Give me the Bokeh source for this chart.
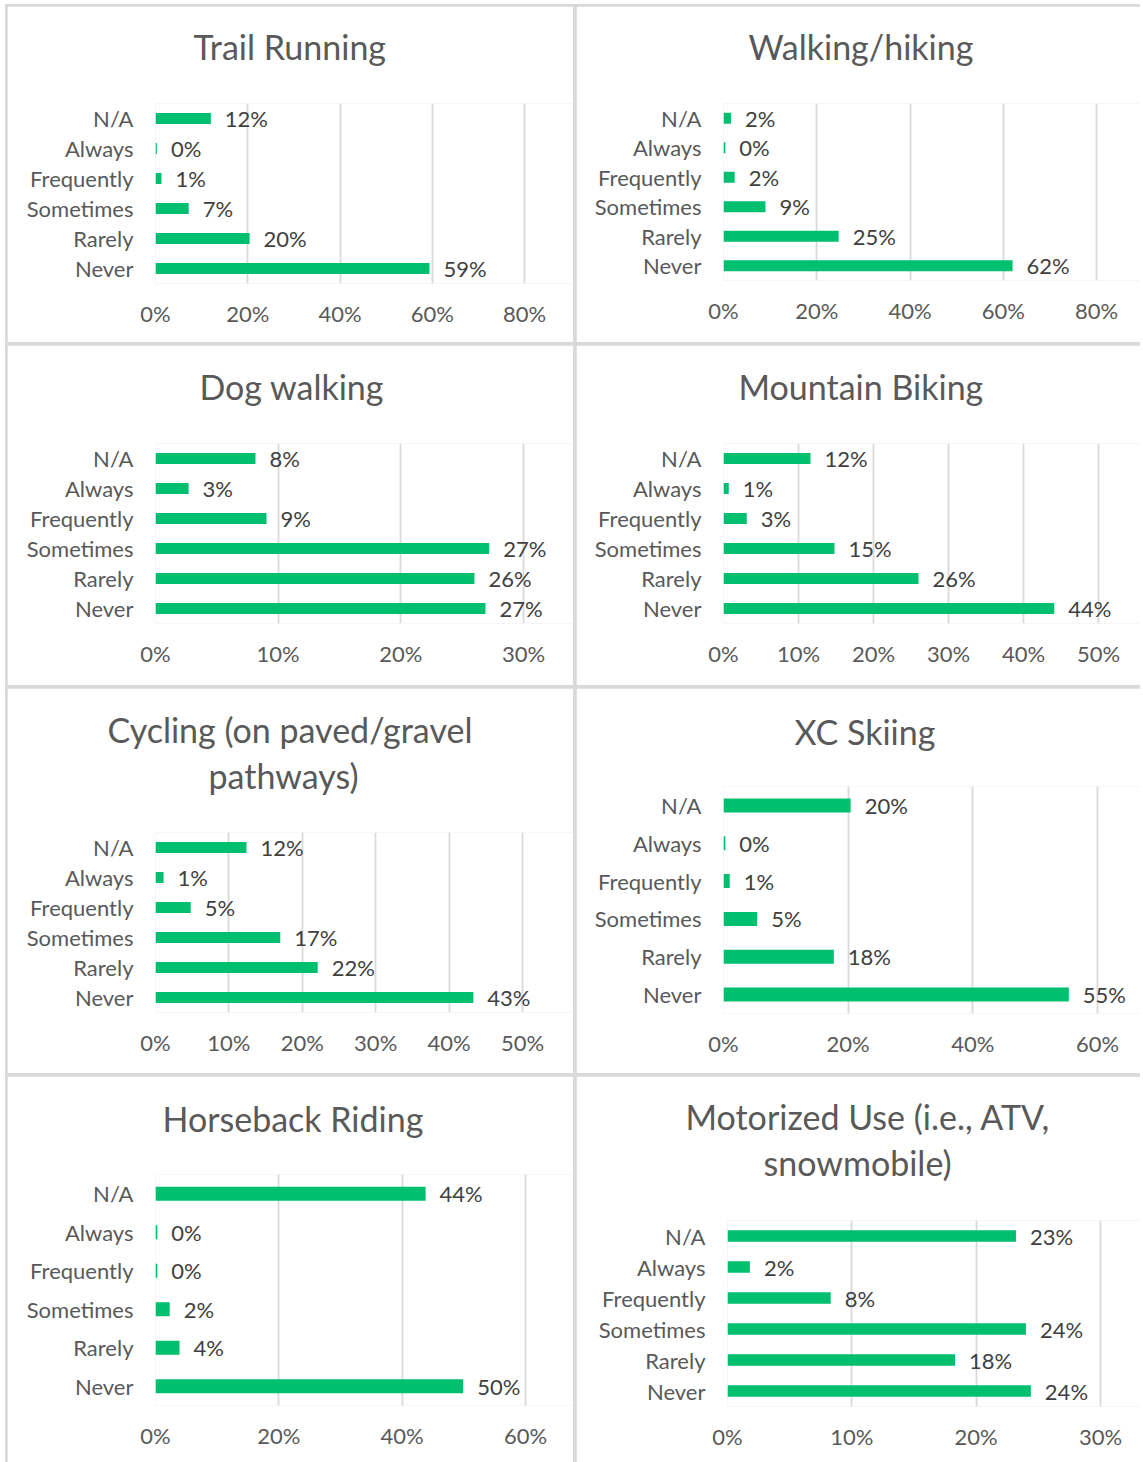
from bokeh.plotting import figure
from bokeh.models import (ColumnDataSource, FactorRange, Range1d, FixedTicker,
                          LabelSet, Title, Row, Column)
from bokeh.core.properties import value
from bokeh.embed import file_html
from bokeh.resources import INLINE

# ---------------- data ----------------
categories = ["N/A", "Always", "Frequently", "Sometimes", "Rarely", "Never"]

trail_running = [12.0, 0.3, 1.3, 7.2, 20.4, 59.4]
walking_hiking = [1.6, 0.4, 2.4, 9.0, 24.7, 62.0]
dog_walking = [8.15, 2.7, 9.05, 27.2, 26.0, 26.9]
mountain_biking = [11.6, 0.7, 3.1, 14.8, 26.0, 44.1]
cycling = [12.4, 1.1, 4.8, 17.0, 22.1, 43.3]
xc_skiing = [20.4, 0.3, 1.0, 5.4, 17.7, 55.4]
horseback_riding = [43.8, 0.3, 0.3, 2.3, 3.9, 49.9]
motorized_use = [23.2, 1.8, 8.3, 24.0, 18.3, 24.4]

ticks_80 = [0, 20, 40, 60, 80]
ticks_30_by10 = [0, 10, 20, 30]
ticks_50_by10 = [0, 10, 20, 30, 40, 50]
ticks_60_by20 = [0, 20, 40, 60]

title_trail = ["Trail Running"]
title_walk = ["Walking/hiking"]
title_dog = ["Dog walking"]
title_mtb = ["Mountain Biking"]
title_cyc = ["Cycling (on paved/gravel", "pathways)"]
title_xc = ["XC Skiing"]
title_horse = ["Horseback Riding"]
title_motor = ["Motorized Use (i.e., ATV,", "snowmobile)"]

# ---------------- styling ----------------
FONT = "Lato"
BAR = "#00BF6F"
GRID = "#D9D9D9"
AXTXT = "#595959"
LBLTXT = "#404040"
TITLE_PX = 34
TXT_SIZE = "22px"
LINE_GAP = 3.2


def panel(title_lines, title_offsets, title_gap, vals, ticks, w, h, left, fw, top, fh):
    factors = list(reversed(categories))
    tmax = ticks[-1]
    right = w - left - fw
    scale = fw / tmax
    x_end = tmax + right / scale          # let the frame reach the panel edge
    p = figure(width=w, height=h, y_range=FactorRange(*factors),
               x_range=Range1d(0, x_end),
               output_backend="svg", toolbar_location=None,
               min_border_left=left, min_border_right=0,
               min_border_top=top, min_border_bottom=h - top - fh,
               background_fill_color="white", border_fill_color="white")
    p.frame_align = False
    p.outline_line_color = None
    src = ColumnDataSource(dict(cat=categories, val=vals,
                                lbl=[f"{round(v)}%" for v in vals]))
    p.hbar(y="cat", right="val", left=0, height=0.37, source=src,
           fill_color=BAR, line_color=None)
    labels = LabelSet(x="val", y="cat", text="lbl", source=src,
                      x_offset=14, text_baseline="middle", text_align="left",
                      text_font=value(FONT), text_font_size=value(TXT_SIZE),
                      text_color=LBLTXT)
    p.add_layout(labels)

    p.xgrid.ticker = FixedTicker(ticks=ticks)
    p.xgrid.grid_line_color = GRID
    p.xgrid.grid_line_width = 1.8
    p.ygrid.grid_line_color = None

    p.xaxis.ticker = FixedTicker(ticks=ticks)
    p.xaxis.major_label_overrides = {t: f"{t}%" for t in ticks}
    for ax in (p.xaxis[0], p.yaxis[0]):
        ax.axis_line_color = None
        ax.major_tick_line_color = None
        ax.minor_tick_line_color = None
        ax.major_label_text_font = FONT
        ax.major_label_text_font_size = TXT_SIZE
        ax.major_label_text_color = AXTXT
    p.xaxis.major_label_standoff = 10
    p.yaxis.major_label_standoff = 16

    # titles: a thin spacer first (closest to the frame), then the lines
    p.title = None
    th = 1.2 * TITLE_PX
    multi = len(title_lines) > 1
    s = LINE_GAP if multi else 0
    spacer = title_gap - th / 2 - s / 2
    p.add_layout(Title(text=" ", text_font_size="1px", standoff=spacer - 1.2,
                       text_color="white"), "above")
    for line, off in zip(reversed(title_lines), reversed(title_offsets)):
        p.add_layout(Title(text=line, align="left", offset=off, text_font=FONT,
                           text_font_size=f"{TITLE_PX}px", text_color=AXTXT,
                           text_font_style="normal", standoff=s), "above")
    return p


W1, W2 = 566, 564
H = [336, 340, 385, 386]

p1 = panel(title_trail, [38], 55, trail_running, ticks_80, W1, H[0], 148, 369, 97, 180)
p2 = panel(title_walk, [25], 55, walking_hiking, ticks_80, W2, H[0], 147, 373, 97, 177)
p3 = panel(title_dog, [44], 55, dog_walking, ticks_30_by10, W1, H[1], 148, 368, 98, 180)
p4 = panel(title_mtb, [15], 55, mountain_biking, ticks_50_by10, W2, H[1], 147, 375, 98, 180)
p5 = panel(title_cyc, [-48, 53], 55, cycling, ticks_50_by10, W1, H[2], 148, 367, 144, 180)
p6 = panel(title_xc, [71], 53, xc_skiing, ticks_60_by20, W2, H[2], 147, 374, 98, 227)
p7 = panel(title_horse, [7], 54, horseback_riding, ticks_60_by20, W1, H[3], 148, 370, 98, 231)
p8 = panel(title_motor, [-42, 36], 56, motorized_use, ticks_30_by10, W2, H[3], 151, 373, 144, 186)

rows = [Row(children=[a, b], spacing=3) for a, b in [(p1, p2), (p3, p4), (p5, p6), (p7, p8)]]
layout = Column(children=rows, spacing=3,
                styles={"background-color": "#D9D9D9", "padding": "2px 0 0 2px",
                        "margin": "4px 0 0 5px"})

open("out.html", "w").write(file_html(layout, INLINE))
